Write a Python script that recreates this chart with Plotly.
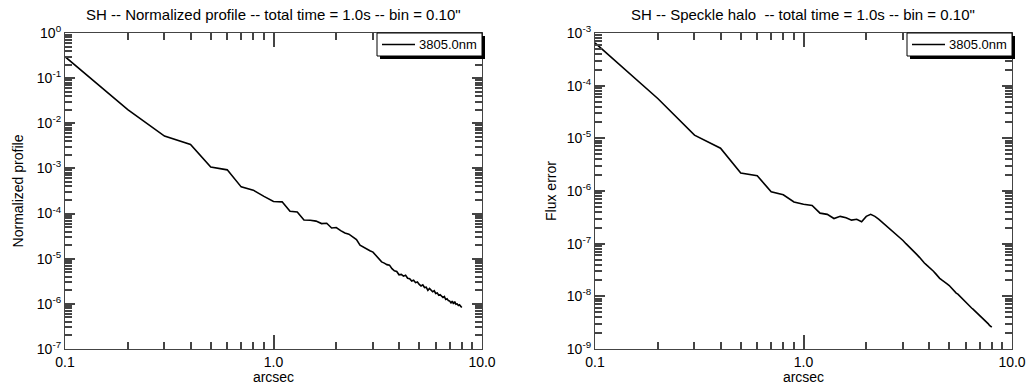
import plotly.graph_objects as go

arcsec = [round(0.1 * i, 1) for i in range(1, 81)]

norm_profile = [
    0.30, 0.020, 0.0052, 0.0034, 0.00107, 0.00093, 0.00039, 0.00033, 0.00024, 1.85e-4,
    1.82e-4, 1.12e-4, 1.08e-4, 7.2e-5, 7.1e-5, 6.8e-5, 6.0e-5, 6.1e-5, 4.8e-5, 4.9e-5,
    4.2e-5, 3.7e-5, 3.5e-5, 3.0e-5, 2.65e-5, 2.0e-5, 1.8e-5, 1.6e-5, 1.5e-5, 1.4e-5,
    1.18e-5, 1.05e-5, 8.5e-6, 8.0e-6, 7.4e-6, 7.2e-6, 6.0e-6, 5.4e-6, 5.2e-6, 4.4e-6,
    4.5e-6, 4.1e-6, 4.3e-6, 3.7e-6, 3.6e-6, 3.2e-6, 3.35e-6, 2.95e-6, 3.05e-6, 2.7e-6,
    2.5e-6, 2.65e-6, 2.3e-6, 2.35e-6, 2.0e-6, 2.2e-6, 1.95e-6, 1.85e-6, 1.95e-6, 1.7e-6,
    1.75e-6, 1.55e-6, 1.6e-6, 1.45e-6, 1.38e-6, 1.45e-6, 1.25e-6, 1.3e-6, 1.18e-6, 1.15e-6,
    1.05e-6, 1.15e-6, 1.0e-6, 1.12e-6, 9.8e-7, 1.0e-6, 9.2e-7, 9.5e-7, 8.6e-7, 8.3e-7,
]

flux_error = [
    6.5e-4, 5.7e-5, 1.15e-5, 6.5e-6, 2.2e-6, 1.95e-6, 9.7e-7, 8.5e-7, 6.2e-7, 5.6e-7,
    5.3e-7, 3.8e-7, 3.6e-7, 3.0e-7, 3.3e-7, 3.1e-7, 2.8e-7, 2.9e-7, 2.6e-7, 3.3e-7,
    3.6e-7, 3.3e-7, 2.9e-7, 2.5e-7, 2.2e-7, 1.9e-7, 1.7e-7, 1.45e-7, 1.27e-7, 1.15e-7,
    1.0e-7, 8.9e-8, 7.9e-8, 6.9e-8, 6.2e-8, 5.5e-8, 4.8e-8, 4.3e-8, 3.9e-8, 3.6e-8,
    3.3e-8, 3.0e-8, 2.7e-8, 2.4e-8, 2.2e-8, 2.05e-8, 1.9e-8, 1.8e-8, 1.7e-8, 1.6e-8,
    1.45e-8, 1.35e-8, 1.25e-8, 1.15e-8, 1.1e-8, 1.02e-8, 9.4e-9, 8.8e-9, 8.3e-9, 7.8e-9,
    7.3e-9, 6.8e-9, 6.4e-9, 6.0e-9, 5.7e-9, 5.4e-9, 5.0e-9, 4.8e-9, 4.6e-9, 4.4e-9,
    4.1e-9, 3.9e-9, 3.7e-9, 3.5e-9, 3.35e-9, 3.2e-9, 3.0e-9, 2.8e-9, 2.7e-9, 2.6e-9,
]

x_tickvals = [0.1, 1.0, 10.0]
x_ticktext = ["0.1", "1.0", "10.0"]
left_exps = list(range(-7, 1))
right_exps = list(range(-9, -2))
series_name = "3805.0nm"
left_title = "SH -- Normalized profile -- total time = 1.0s -- bin = 0.10\""
right_title = "SH -- Speckle halo  -- total time = 1.0s -- bin = 0.10\""

W, H = 1031, 385
ML, MR, MT, MB = 65, 19, 33, 36
PW = W - ML - MR
PH = H - MT - MB


def px_x(p):
    return (p - ML) / PW


def px_y(p):
    return 1 - (p - MT) / PH


FONT = "Liberation Sans, Arial, Helvetica, sans-serif"
AXC = "#444444"

fig = go.Figure()
fig.add_trace(go.Scatter(x=arcsec, y=norm_profile, mode="lines", name=series_name,
                         line=dict(color="black", width=1.6), xaxis="x", yaxis="y"))
fig.add_trace(go.Scatter(x=arcsec, y=flux_error, mode="lines", name=series_name,
                         line=dict(color="black", width=1.6), xaxis="x2", yaxis="y2"))


def xaxis(dom, anchor):
    return dict(type="log", range=[-1, 1], domain=dom, anchor=anchor, automargin=False,
                tickmode="array", tickvals=x_tickvals, ticktext=x_ticktext,
                ticks="inside", ticklen=14, tickcolor=AXC, tickwidth=1.5,
                showline=True, linecolor=AXC, linewidth=1.2, mirror="ticks",
                showgrid=False, zeroline=False,
                minor=dict(ticks="inside", ticklen=7, tickcolor=AXC, tickwidth=1.5, dtick="D1"),
                tickfont=dict(family=FONT, size=14, color="black"),
                title=dict(text="arcsec", font=dict(family=FONT, size=14, color="black"), standoff=4))


def yaxis(exps, anchor, title, standoff):
    return dict(type="log", range=[exps[0], exps[-1]], domain=[0, 1], anchor=anchor,
                automargin=False,
                tickmode="array", tickvals=[10.0 ** e for e in exps],
                ticktext=["10<sup>%d</sup>" % e for e in exps],
                ticks="inside", ticklen=10, tickcolor=AXC, tickwidth=1.5,
                showline=True, linecolor=AXC, linewidth=1.2, mirror="ticks",
                showgrid=False, zeroline=False,
                minor=dict(ticks="inside", ticklen=7, tickcolor=AXC, tickwidth=1.5, dtick="D1"),
                tickfont=dict(family=FONT, size=14, color="black"),
                title=dict(text=title, font=dict(family=FONT, size=14, color="black"), standoff=standoff))


xl0, xl1 = px_x(65), px_x(482)
xr0, xr1 = px_x(595), px_x(1012)

shapes = []
annotations = [
    dict(text=left_title, x=(xl0 + xl1) / 2, y=px_y(15), xref="paper", yref="paper",
         xanchor="center", yanchor="middle", showarrow=False,
         font=dict(family=FONT, size=15, color="black")),
    dict(text=right_title, x=(xr0 + xr1) / 2, y=px_y(15), xref="paper", yref="paper",
         xanchor="center", yanchor="middle", showarrow=False,
         font=dict(family=FONT, size=15, color="black")),
]

# legend boxes (one per panel), placed in the top-right corner of each plot
for right_px in (482, 1012):
    bx0, bx1 = right_px - 105, right_px
    by0, by1 = 33, 56
    shapes.append(dict(type="rect", xref="paper", yref="paper",
                       x0=px_x(bx0 + 3), x1=px_x(bx1 + 3), y0=px_y(by1 + 3), y1=px_y(by0 + 3),
                       fillcolor="black", line=dict(width=0), layer="above"))
    shapes.append(dict(type="rect", xref="paper", yref="paper",
                       x0=px_x(bx0), x1=px_x(bx1), y0=px_y(by1), y1=px_y(by0),
                       fillcolor="white", line=dict(color="black", width=1), layer="above"))
    shapes.append(dict(type="line", xref="paper", yref="paper",
                       x0=px_x(bx0 + 5), x1=px_x(bx0 + 38), y0=px_y(44.5), y1=px_y(44.5),
                       line=dict(color="black", width=1.6), layer="above"))
    annotations.append(dict(text=series_name, x=px_x(bx0 + 40), y=px_y(44.5),
                            xref="paper", yref="paper", xanchor="left", yanchor="middle",
                            showarrow=False, font=dict(family=FONT, size=13, color="black")))

fig.update_layout(
    width=W, height=H, margin=dict(l=ML, r=MR, t=MT, b=MB),
    paper_bgcolor="white", plot_bgcolor="white",
    font=dict(family=FONT, size=14, color="black"),
    xaxis=xaxis([xl0, xl1], "y"), yaxis=yaxis(left_exps, "x", "Normalized profile", 9),
    xaxis2=xaxis([xr0, xr1], "y2"), yaxis2=yaxis(right_exps, "x2", "Flux error", 6),
    showlegend=False,
    shapes=shapes,
    annotations=annotations,
)

fig.write_html("out.html")
